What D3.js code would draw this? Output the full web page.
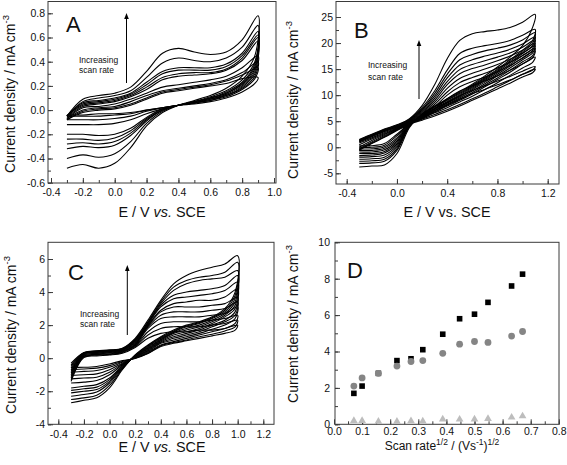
<!DOCTYPE html>
<html><head><meta charset="utf-8">
<script src="https://cdn.jsdelivr.net/npm/d3@7"></script>
<style>body{margin:0;background:#fff} svg{display:block} text{font-family:Arial,"Liberation Sans",sans-serif;fill:#111}</style>
</head><body><svg id="c" width="567" height="465"></svg>
<script>
// ---------- Panel A (E / V vs. SCE, current density mA cm-3) ----------
const aFwdE = [-0.3,-0.2,-0.1,0,0.1,0.2,0.3,0.4,0.5,0.6,0.7,0.8,0.9];
const aRevE = [0.9,0.88,0.8,0.7,0.6,0.5,0.4,0.3,0.2,0.1,0.0,-0.1,-0.2,-0.3];
const aFwd = [
 [-0.05,0.09,0.12,0.14,0.19,0.32,0.47,0.51,0.48,0.46,0.48,0.58,0.78],
 [-0.05,0.07,0.10,0.12,0.16,0.27,0.39,0.43,0.41,0.40,0.43,0.52,0.70],
 [-0.05,0.06,0.08,0.10,0.14,0.23,0.32,0.35,0.35,0.35,0.38,0.47,0.65],
 [-0.05,0.05,0.07,0.09,0.13,0.21,0.30,0.33,0.33,0.33,0.36,0.45,0.62],
 [-0.05,0.04,0.06,0.08,0.12,0.19,0.27,0.30,0.31,0.31,0.34,0.43,0.60],
 [-0.06,0.03,0.05,0.07,0.11,0.17,0.25,0.28,0.29,0.30,0.33,0.41,0.57],
 [-0.07,0.02,0.03,0.05,0.09,0.14,0.19,0.21,0.23,0.25,0.28,0.35,0.45],
 [-0.07,0.00,0.02,0.03,0.07,0.12,0.16,0.18,0.20,0.22,0.25,0.31,0.40],
 [-0.08,-0.01,0.01,0.02,0.05,0.10,0.15,0.17,0.19,0.21,0.24,0.29,0.35],
 [-0.08,-0.02,0.00,0.01,0.04,0.09,0.14,0.16,0.18,0.20,0.22,0.26,0.27]
];
const aRev = [
 [0.78,0.45,0.28,0.18,0.12,0.08,0.04,-0.02,-0.13,-0.31,-0.44,-0.48,-0.45,-0.48],
 [0.70,0.40,0.25,0.16,0.11,0.07,0.04,-0.01,-0.11,-0.26,-0.36,-0.39,-0.37,-0.40],
 [0.65,0.38,0.23,0.15,0.10,0.07,0.04,0.00,-0.09,-0.21,-0.29,-0.31,-0.30,-0.32],
 [0.62,0.36,0.22,0.14,0.10,0.07,0.04,0.00,-0.08,-0.19,-0.26,-0.28,-0.27,-0.28],
 [0.60,0.34,0.21,0.14,0.10,0.06,0.04,0.00,-0.07,-0.17,-0.23,-0.25,-0.24,-0.24],
 [0.57,0.32,0.20,0.13,0.09,0.06,0.04,0.01,-0.06,-0.15,-0.20,-0.21,-0.20,-0.20],
 [0.45,0.30,0.19,0.12,0.09,0.06,0.04,0.01,-0.03,-0.08,-0.11,-0.12,-0.12,-0.12],
 [0.40,0.28,0.18,0.12,0.08,0.06,0.04,0.02,-0.01,-0.05,-0.07,-0.08,-0.08,-0.08],
 [0.35,0.26,0.17,0.11,0.08,0.06,0.04,0.02,0.00,-0.03,-0.04,-0.05,-0.05,-0.05],
 [0.27,0.22,0.15,0.10,0.07,0.05,0.04,0.02,0.00,-0.02,-0.03,-0.03,-0.04,-0.04]
];
const aXTicks = [-0.4,-0.2,0.0,0.2,0.4,0.6,0.8,1.0];
const aYTicks = [-0.6,-0.4,-0.2,0.0,0.2,0.4,0.6,0.8];

// ---------- Panel B ----------
const bFwdE = [-0.3,-0.2,-0.1,0,0.1,0.2,0.3,0.4,0.5,0.6,0.7,0.8,0.9,1.0,1.1];
const bRevE = [1.1,1.08,1.0,0.9,0.8,0.7,0.6,0.5,0.4,0.3,0.2,0.1,0.0,-0.1,-0.2,-0.3];
const bFwd = [
 [1.5,2.5,3.5,4.3,5.5,8.0,12.0,17.0,20.5,21.8,22.2,22.5,23.0,24.0,25.5],
 [1.4,2.4,3.4,4.2,5.4,7.6,10.8,14.8,18.0,19.0,19.5,19.9,20.5,21.5,22.6],
 [1.3,2.3,3.3,4.1,5.3,7.3,10.3,14.0,16.8,17.8,18.5,19.0,19.6,20.6,22.0],
 [1.2,2.2,3.2,4.0,5.2,7.1,9.8,13.3,15.8,16.8,17.5,18.1,18.8,19.8,21.2],
 [1.1,2.1,3.1,3.9,5.1,6.9,9.4,12.6,14.9,15.9,16.6,17.3,18.1,19.2,20.6],
 [1.0,2.0,3.0,3.8,5.0,6.7,9.0,12.0,14.1,15.1,15.8,16.6,17.5,18.6,20.0],
 [0.8,1.8,2.8,3.7,4.9,6.5,8.6,11.3,13.2,14.2,15.0,15.9,16.9,18.1,19.5],
 [0.5,1.6,2.6,3.6,4.8,6.3,8.2,10.6,12.4,13.4,14.2,15.2,16.3,17.6,19.0],
 [0.0,1.3,2.4,3.5,4.7,6.1,7.8,10.0,11.6,12.6,13.5,14.5,15.7,17.1,18.5],
 [-0.3,1.0,2.2,3.4,4.6,5.9,7.4,9.3,10.8,11.8,12.7,13.7,14.8,16.0,17.3],
 [-0.5,0.8,2.0,3.3,4.5,5.7,7.0,8.6,9.9,10.9,11.8,12.7,13.6,14.6,15.5],
 [-0.6,0.7,1.9,3.2,4.4,5.5,6.7,8.1,9.3,10.3,11.1,12.0,12.9,14.0,15.0]
];
const bRev = [
 [25.5,23.0,19.5,17.3,15.4,13.7,12.1,10.7,9.3,7.9,6.4,3.8,-1.2,-3.4,-3.6,-3.8],
 [22.6,20.5,18.6,16.8,15.0,13.4,11.9,10.5,9.1,7.8,6.3,4.0,-0.6,-2.7,-3.0,-3.1],
 [22.0,20.0,18.3,16.5,14.8,13.2,11.7,10.3,9.0,7.7,6.2,4.1,-0.3,-2.3,-2.6,-2.7],
 [21.2,19.5,18.0,16.2,14.6,13.0,11.5,10.1,8.8,7.5,6.1,4.1,0.0,-1.9,-2.2,-2.3],
 [20.6,19.0,17.6,15.9,14.3,12.8,11.3,9.9,8.6,7.4,6.0,4.2,0.3,-1.5,-1.8,-1.9],
 [20.0,18.6,17.2,15.6,14.0,12.5,11.1,9.7,8.5,7.3,6.0,4.3,0.6,-1.1,-1.5,-1.6],
 [19.5,18.1,16.8,15.2,13.7,12.2,10.8,9.5,8.3,7.1,5.9,4.3,0.9,-0.8,-1.2,-1.2],
 [19.0,17.6,16.4,14.8,13.3,11.9,10.5,9.2,8.1,7.0,5.8,4.4,1.2,-0.5,-0.9,-0.9],
 [18.5,17.2,16.0,14.4,13.0,11.6,10.2,9.0,7.9,6.8,5.7,4.4,1.5,-0.2,-0.6,-0.6],
 [17.3,16.3,15.2,13.8,12.4,11.1,9.8,8.7,7.6,6.6,5.6,4.5,1.8,0.1,-0.3,-0.3],
 [15.5,14.8,14.0,12.8,11.6,10.4,9.3,8.2,7.2,6.3,5.4,4.5,2.2,0.4,0.0,0.0],
 [15.0,14.3,13.5,12.3,11.2,10.1,9.0,7.9,6.9,6.0,5.2,4.4,2.5,0.7,0.3,0.3]
];
const bXTicks = [-0.4,0.0,0.4,0.8,1.2];
const bYTicks = [-5,0,5,10,15,20,25];

// ---------- Panel C ----------
const cFwdE = [-0.3,-0.2,-0.1,0,0.1,0.2,0.3,0.4,0.5,0.6,0.7,0.8,0.9,1.0];
const cRevE = [1.0,0.98,0.9,0.8,0.7,0.6,0.5,0.4,0.3,0.2,0.1,0.0,-0.1,-0.2,-0.3];
const cFwd = [
 [-0.3,0.35,0.45,0.50,0.60,1.20,2.30,3.50,4.50,5.00,5.30,5.50,5.70,6.20],
 [-0.4,0.33,0.43,0.48,0.58,1.15,2.20,3.40,4.30,4.70,4.90,5.00,5.20,5.80],
 [-0.5,0.31,0.41,0.46,0.56,1.10,2.15,3.30,4.10,4.50,4.70,4.80,4.90,5.30],
 [-0.6,0.29,0.39,0.44,0.54,1.05,2.10,3.20,3.80,4.00,4.10,4.20,4.40,5.00],
 [-0.7,0.27,0.37,0.42,0.52,1.00,2.05,3.10,3.60,3.70,3.80,3.90,4.10,4.60],
 [-0.8,0.25,0.35,0.40,0.50,0.95,2.00,2.90,3.30,3.40,3.50,3.50,3.70,4.20],
 [-0.9,0.22,0.32,0.37,0.48,0.90,1.95,2.80,3.10,3.10,3.10,3.20,3.30,3.70],
 [-1.0,0.19,0.29,0.34,0.45,0.85,1.90,2.60,2.80,2.80,2.80,2.90,3.00,3.40],
 [-1.1,0.16,0.26,0.31,0.42,0.80,1.80,2.40,2.50,2.50,2.50,2.60,2.70,3.10],
 [-1.2,0.12,0.22,0.27,0.38,0.75,1.60,2.10,2.20,2.20,2.20,2.30,2.40,2.60],
 [-1.3,0.08,0.18,0.23,0.34,0.70,1.40,1.80,1.90,1.90,1.90,2.00,2.10,2.30],
 [-1.4,0.04,0.14,0.19,0.30,0.65,1.20,1.50,1.60,1.60,1.70,1.70,1.80,2.00]
];
const cRev = [
 [6.2,4.0,3.0,2.5,2.2,2.0,1.7,1.3,0.8,0.2,-0.7,-1.8,-2.4,-2.55,-2.7],
 [5.8,3.8,2.9,2.45,2.15,1.95,1.65,1.25,0.75,0.18,-0.65,-1.65,-2.25,-2.4,-2.5],
 [5.3,3.6,2.8,2.4,2.1,1.9,1.6,1.2,0.7,0.16,-0.6,-1.5,-2.05,-2.2,-2.3],
 [5.0,3.4,2.7,2.3,2.0,1.8,1.55,1.15,0.65,0.14,-0.55,-1.4,-1.9,-2.0,-2.1],
 [4.6,3.2,2.6,2.2,1.9,1.7,1.5,1.1,0.6,0.12,-0.5,-1.3,-1.75,-1.85,-1.95],
 [4.2,3.0,2.5,2.1,1.8,1.6,1.4,1.05,0.55,0.1,-0.45,-1.2,-1.6,-1.7,-1.8],
 [3.7,2.8,2.3,2.0,1.7,1.5,1.3,1.0,0.5,0.08,-0.4,-1.0,-1.35,-1.45,-1.5],
 [3.4,2.6,2.2,1.9,1.6,1.4,1.2,0.95,0.45,0.06,-0.35,-0.85,-1.15,-1.2,-1.25],
 [3.1,2.4,2.0,1.75,1.5,1.3,1.1,0.9,0.4,0.04,-0.3,-0.7,-0.95,-1.0,-1.05],
 [2.6,2.1,1.8,1.6,1.4,1.2,1.0,0.8,0.35,0.02,-0.25,-0.55,-0.75,-0.8,-0.85],
 [2.3,1.9,1.65,1.45,1.3,1.1,0.95,0.75,0.3,0.0,-0.2,-0.45,-0.6,-0.65,-0.7],
 [2.0,1.7,1.5,1.35,1.2,1.05,0.9,0.7,0.28,-0.02,-0.15,-0.35,-0.5,-0.55,-0.55]
];
const cXTicks = [-0.4,-0.2,0.0,0.2,0.4,0.6,0.8,1.0,1.2];
const cYTicks = [-4,-2,0,2,4,6];

// ---------- Panel D ----------
const dScanRate = [0.0707,0.1,0.158,0.224,0.274,0.316,0.387,0.447,0.5,0.548,0.632,0.671];
const dSquares  = [1.7,2.1,2.8,3.5,3.6,4.1,4.95,5.8,6.05,6.7,7.6,8.25];
const dCircles  = [2.1,2.55,2.8,3.2,3.45,3.5,3.9,4.4,4.55,4.5,4.85,5.1];
const dTriangles= [0.2,0.2,0.15,0.15,0.18,0.17,0.28,0.27,0.28,0.3,0.38,0.45];
const dXTicks = [0.0,0.1,0.2,0.3,0.4,0.5,0.6,0.7,0.8];
const dYTicks = [0,2,4,6,8,10];

const svg = d3.select('#c');
const frameColor = '#3a3a3a';

function makePanel(cfg){
  const g = svg.append('g');
  const x = d3.scaleLinear().domain(cfg.xd).range(cfg.xr);
  const y = d3.scaleLinear().domain(cfg.yd).range(cfg.yr);
  const xMinor = d3.range(cfg.xd[0], cfg.xd[1] + 1e-9, cfg.xMinorStep);
  const yMinor = d3.range(cfg.yd[0], cfg.yd[1] + 1e-9, cfg.yMinorStep);
  const fmtX = d => (Math.abs(d) < 1e-9 ? 0 : d).toFixed(cfg.xDec);
  const fmtY = d => (Math.abs(d) < 1e-9 ? 0 : d).toFixed(cfg.yDec);
  const ax = g.append('g').attr('transform', `translate(0,${cfg.frame[3]})`)
    .call(d3.axisBottom(x).tickValues(xMinor).tickSize(-3).tickFormat(''));
  const ax2 = g.append('g').attr('transform', `translate(0,${cfg.frame[3]})`)
    .call(d3.axisBottom(x).tickValues(cfg.xTicks).tickSize(-5).tickPadding(cfg.xPad).tickFormat(fmtX));
  const ay = g.append('g').attr('transform', `translate(${cfg.frame[0]},0)`)
    .call(d3.axisLeft(y).tickValues(yMinor).tickSize(-3).tickFormat(''));
  const ay2 = g.append('g').attr('transform', `translate(${cfg.frame[0]},0)`)
    .call(d3.axisLeft(y).tickValues(cfg.yTicks).tickSize(-5).tickPadding(cfg.yPad || 3).tickFormat(fmtY));
  [ax,ax2,ay,ay2].forEach(a => {
    a.select('.domain').remove();
    a.selectAll('line').attr('stroke', frameColor);
    a.selectAll('text').style('font-size','10.5px').style('font-family','Arial, "Liberation Sans", sans-serif').attr('fill','#111');
  });
  g.append('rect').attr('x',cfg.frame[0]).attr('y',cfg.frame[1])
    .attr('width',cfg.frame[2]-cfg.frame[0]).attr('height',cfg.frame[3]-cfg.frame[1])
    .attr('fill','none').attr('stroke',frameColor).attr('stroke-width',1);
  return {g,x,y};
}

function drawCV(p, fwdE, fwd, revE, rev){
  const line = d3.line().x(d=>p.x(d[0])).y(d=>p.y(d[1])).curve(d3.curveCatmullRom.alpha(0.5));
  fwd.forEach((vals,i)=>{
    const pts = fwdE.map((e,k)=>[e,vals[k]]).concat(revE.slice(1).map((e,k)=>[e,rev[i][k+1]]));
    p.g.append('path').attr('d', line(pts)).attr('fill','none').attr('stroke','#000').attr('stroke-width',1.1);
  });
}

function yTitle(cy, baseX){
  const t = svg.append('text').attr('transform',`translate(${baseX},${cy}) rotate(-90)`)
    .attr('text-anchor','middle').style('font-size','14px');
  t.append('tspan').text('Current density / mA cm');
  t.append('tspan').attr('dy',-6).style('font-size','9.5px').text('-3');
}
function xTitleVs(cx, by, italic){
  const t = svg.append('text').attr('x',cx).attr('y',by).attr('text-anchor','middle').style('font-size','14.4px');
  t.append('tspan').text('E / V ');
  t.append('tspan').style('font-style', italic ? 'italic' : 'normal').text('vs.');
  t.append('tspan').text(' SCE');
}
function label(txt, x, y){
  svg.append('text').attr('x',x).attr('y',y).style('font-size','22px').text(txt);
}
function arrowNote(ax, ytop, ybot, tx, ty1, ty2){
  svg.append('line').attr('x1',ax).attr('x2',ax).attr('y1',ybot).attr('y2',ytop+5).attr('stroke','#000').attr('stroke-width',1);
  svg.append('path').attr('d',`M${ax},${ytop} L${ax-2.3},${ytop+6} L${ax+2.3},${ytop+6} Z`).attr('fill','#000');
  svg.append('text').attr('x',tx).attr('y',ty1).style('font-size','8.5px').text('Increasing');
  svg.append('text').attr('x',tx).attr('y',ty2).style('font-size','8.5px').text('scan rate');
}

// Panel A
const pA = makePanel({xd:[-0.4,1.0], xr:[51,274], yd:[-0.6,0.8], yr:[182.7,13.3],
  frame:[48,1.5,276,183], xTicks:aXTicks, yTicks:aYTicks, xMinorStep:0.1, yMinorStep:0.1, xDec:1, yDec:1, xPad:6});
drawCV(pA, aFwdE, aFwd, aRevE, aRev);
label('A', 66, 32);
arrowNote(126.5, 13, 83, 79, 63, 73);
yTitle(94, 15);
xTitleVs(162, 217, true);

// Panel B
const pB = makePanel({xd:[-0.4,1.2], xr:[346.7,547.7], yd:[-5,25], yr:[173.3,17],
  frame:[336,1.5,559,184], xTicks:bXTicks, yTicks:bYTicks, xMinorStep:0.2, yMinorStep:2.5, xDec:1, yDec:0, xPad:6});
drawCV(pB, bFwdE, bFwd, bRevE, bRev);
label('B', 354, 38);
arrowNote(419, 40, 99, 368, 68, 80);
yTitle(100, 298);
xTitleVs(447, 217, false);

// Panel C
const pC = makePanel({xd:[-0.4,1.2], xr:[58.3,263.3], yd:[-4,6], yr:[424.3,259],
  frame:[48,242.3,274,424.3], xTicks:cXTicks, yTicks:cYTicks, xMinorStep:0.1, yMinorStep:1, xDec:1, yDec:0, xPad:6.5});
drawCV(pC, cFwdE, cFwd, cRevE, cRev);
label('C', 68, 280);
arrowNote(127.3, 265, 335, 80, 316.5, 326.5);
yTitle(335, 16);
xTitleVs(162, 452, true);

// Panel D
const pD = makePanel({xd:[0,0.8], xr:[334,558.8], yd:[0,10], yr:[424.3,242.3],
  frame:[335,242.3,559,424.3], xTicks:dXTicks, yTicks:dYTicks, xMinorStep:0.05, yMinorStep:1, xDec:1, yDec:0, xPad:3, yPad:5});
pD.g.selectAll('.dtri').data(dScanRate).enter().append('path')
  .attr('d', d3.symbol(d3.symbolTriangle, 26)())
  .attr('transform',(d,i)=>`translate(${pD.x(d)},${pD.y(dTriangles[i])})`).attr('fill','#bdbdbd');
pD.g.selectAll('.dsq').data(dScanRate).enter().append('rect')
  .attr('x',d=>pD.x(d)-2.8).attr('y',(d,i)=>pD.y(dSquares[i])-2.8).attr('width',5.6).attr('height',5.6).attr('fill','#000');
pD.g.selectAll('.dcir').data(dScanRate).enter().append('circle')
  .attr('cx',d=>pD.x(d)).attr('cy',(d,i)=>pD.y(dCircles[i])).attr('r',3.4).attr('fill','#858585');
label('D', 347, 278);
yTitle(324, 298);
{
  const t = svg.append('text').attr('x',442).attr('y',450).attr('text-anchor','middle').style('font-size','12px');
  t.append('tspan').text('Scan rate');
  t.append('tspan').attr('dy',-5).style('font-size','8.5px').text('1/2');
  t.append('tspan').attr('dy',5).text(' / (Vs');
  t.append('tspan').attr('dy',-5).style('font-size','8.5px').text('-1');
  t.append('tspan').attr('dy',5).text(')');
  t.append('tspan').attr('dy',-5).style('font-size','8.5px').text('1/2');
}
</script></body></html>
